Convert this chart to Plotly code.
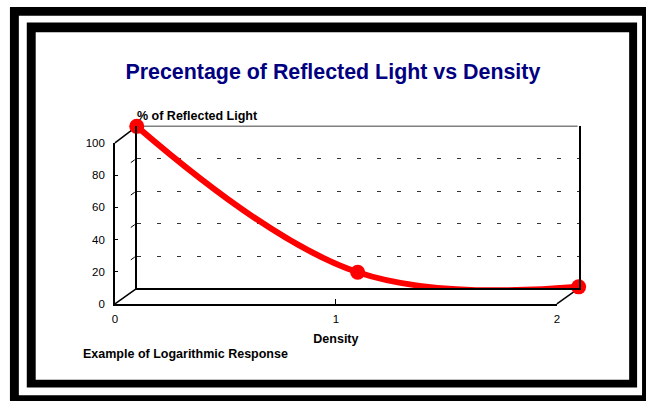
import plotly.graph_objects as go

W, H = 650, 408

# ---- data ----
density = [0, 1, 2]
reflected = [100, 10, 1]
x_ticks = [0, 1, 2]
x_ticktext = ["0", "1", "2"]
y_ticks = [0, 20, 40, 60, 80, 100]
grid_vals = [20, 40, 60, 80, 100]

title_text = "Precentage of Reflected Light vs Density"
y_title = "% of Reflected Light"
x_title = "Density"
note_text = "Example of Logarithmic Response"

FONT = "Liberation Sans, Arial, sans-serif"


def px(x):
    return x / W


def py(y):
    return 1 - y / H


# plane geometry (pixels)
FX0, FX1, FY0, FY1 = 113, 559, 307, 141   # front plane (x0,x1,y_bottom,y_top)
BX0, BX1, BY0, BY1 = 135, 581, 291, 124   # back plane

fig = go.Figure()

fig.add_trace(go.Scatter(
    x=density, y=reflected, mode="lines+markers",
    line=dict(color="#FF0000", width=6, shape="spline", smoothing=1.1),
    marker=dict(color="#FF0000", size=15),
    cliponaxis=False, showlegend=False, hoverinfo="skip",
    xaxis="x", yaxis="y",
))
# trace for front axes (invisible)
fig.add_trace(go.Scatter(
    x=[0, 2], y=[0, 100], mode="markers", marker=dict(opacity=0),
    showlegend=False, hoverinfo="skip", xaxis="x2", yaxis="y2",
))

shapes = []


def rect(x0, y0, x1, y1, color):
    shapes.append(dict(type="rect", xref="paper", yref="paper",
                       x0=px(x0), x1=px(x1), y0=py(y1), y1=py(y0),
                       fillcolor=color, line=dict(width=0), layer="below"))


def line(x0, y0, x1, y1, color="black", width=1.5):
    shapes.append(dict(type="line", xref="paper", yref="paper",
                       x0=px(x0), y0=py(y0), x1=px(x1), y1=py(y1),
                       line=dict(color=color, width=width), layer="below"))


# double frame
rect(7, 1, 649, 407, "black")
rect(16, 10, 645, 401, "white")
rect(24, 17, 640, 393, "black")
rect(33, 27, 632, 385, "white")

# 3D box edges
line(BX0, BY1, BX1 - 1, BY1, "#808080", 1.5)       # back wall top
line(FX0, FY1, BX0, BY1)                            # side wall top diagonal
line(FX0, FY0, BX0, BY0)                            # floor left diagonal
line(FX1, FY0, BX1, BY0)                            # floor right diagonal
# short side-wall gridline stubs
for v in grid_vals[:-1]:
    yb = BY0 - (BY0 - BY1) * v / 100
    line(BX0 - 6, yb + 4, BX0 - 2, yb + 1, "black", 1)

fig.update_layout(
    width=W, height=H,
    margin=dict(l=0, r=0, t=0, b=0),
    paper_bgcolor="white", plot_bgcolor="rgba(0,0,0,0)",
    font=dict(family=FONT, color="black"),
    shapes=shapes,
    title=dict(text=title_text, x=px(333), y=py(68), xanchor="center",
               yanchor="middle", xref="paper", yref="paper",
               font=dict(family=FONT, size=21.4, color="#000080", weight="bold")),
    xaxis=dict(domain=[px(BX0), px(BX1)], range=[0, 2], anchor="y",
               showline=True, linecolor="black", linewidth=1.5,
               showgrid=False, zeroline=False, showticklabels=False, ticks=""),
    yaxis=dict(domain=[py(BY0), py(BY1)], range=[0, 100], anchor="x",
               showline=True, mirror=True, linecolor="black", linewidth=1.5,
               tickmode="array", tickvals=grid_vals, showgrid=True,
               gridcolor="#333333", griddash="4px,16px", gridwidth=1,
               zeroline=False, showticklabels=False, ticks=""),
    xaxis2=dict(domain=[px(FX0), px(FX1)], range=[0, 2], anchor="y2",
                tickmode="array", tickvals=x_ticks, ticktext=x_ticktext,
                ticks="inside", ticklen=5, tickcolor="black", tickwidth=1,
                showline=True, linecolor="black", linewidth=1.5,
                showgrid=False, zeroline=False, ticklabelstandoff=3,
                tickfont=dict(family=FONT, size=11.5, color="black"),
                title=dict(text=x_title, standoff=11,
                           font=dict(family=FONT, size=12.5, weight="bold"))),
    yaxis2=dict(domain=[py(FY0), py(FY1)], range=[0, 100], anchor="x2",
                tickmode="array", tickvals=y_ticks,
                ticks="inside", ticklen=3, tickcolor="black", tickwidth=1,
                showline=True, linecolor="black", linewidth=1.5,
                showgrid=False, zeroline=False, ticklabelstandoff=6,
                tickfont=dict(family=FONT, size=11.5, color="black")),
    annotations=[
        dict(text=y_title, x=px(133), y=py(113), xref="paper", yref="paper",
             xanchor="left", yanchor="middle", showarrow=False,
             font=dict(family=FONT, size=12.5, weight="bold", color="black")),
        dict(text=note_text, x=px(79), y=py(359), xref="paper", yref="paper",
             xanchor="left", yanchor="middle", showarrow=False,
             font=dict(family=FONT, size=12.5, weight="bold", color="black")),
    ],
)

fig.write_html(
    "out.html",
    config={"displayModeBar": False},
    post_script="document.body.style.margin='0';document.body.style.padding='0';"
                "document.body.style.overflow='hidden';",
)
